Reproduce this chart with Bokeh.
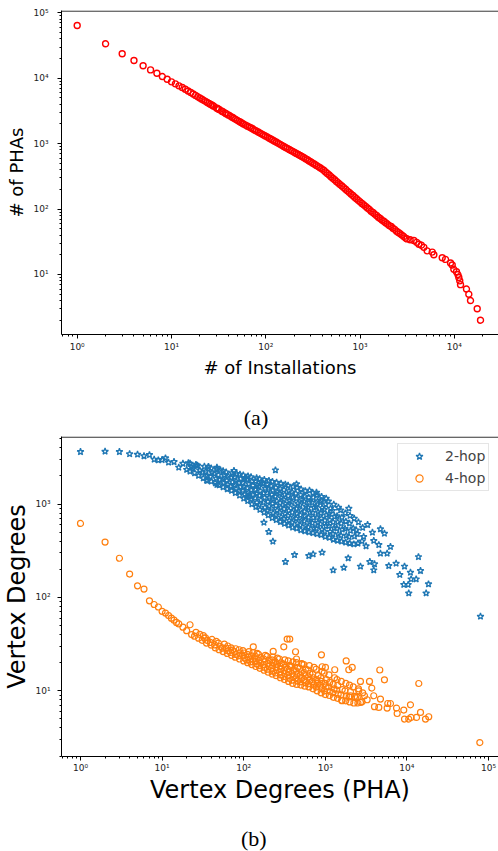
from bokeh.plotting import figure
from bokeh.models import Range1d, FixedTicker, Span, Label, CustomJSTickFormatter
from bokeh.layouts import column
from bokeh.embed import file_html
from bokeh.resources import INLINE

# ---------------- (a) data ----------------
installs = [
    1, 2, 3, 4, 5, 6, 7, 8, 9, 10, 11, 12,
    13, 14, 15, 16, 17, 18, 19, 20, 21, 22, 23, 24, 25, 26, 27, 28, 30, 31, 32, 34, 35, 37, 38, 40,
    42, 44, 46, 48, 50, 52, 54, 56, 58, 61, 64, 67, 70, 73, 76, 79, 83, 87, 91, 95, 99,
    104, 109, 114, 119, 124, 130, 136, 142, 148, 155, 162, 169, 177, 185, 193, 202, 211, 221, 231, 241,
    252, 264, 276, 288, 301, 315, 329, 344, 360, 376, 393, 411, 430, 449, 470, 491, 513, 537, 561, 587,
    613, 641, 670, 701, 733, 766, 801, 837, 875, 915, 957, 1000, 1046, 1093, 1143, 1195, 1250, 1307,
    1366, 1428, 1493, 1561, 1632, 1706, 1784, 1865, 1950, 2039, 2132, 2229, 2330, 2436, 2547, 2663,
    2784, 2911, 3043,
    3155, 3390, 3715, 3980, 4198, 4470, 4742, 5140, 5821, 6053, 7430, 8054, 9099, 9484, 9863,
    10520, 10900, 11143, 11400, 11614, 13428, 14223, 14825, 17458, 18923,
]
phas = [
    64000, 33600, 23600, 18700, 15500, 13400, 11900, 10600, 9660, 8800, 8200, 7650,
    7230, 6780, 6390, 6040, 5740, 5460, 5210, 4990, 4790, 4590, 4430, 4270, 4120, 3980, 3860, 3730, 3520, 3420, 3330, 3160, 3080, 2940, 2870, 2750,
    2640, 2530, 2440, 2350, 2270, 2190, 2120, 2060, 2000, 1920, 1850, 1790, 1730, 1670, 1610, 1570, 1510, 1450, 1400, 1350, 1310,
    1260, 1210, 1170, 1130, 1090, 1050, 1010, 975, 942, 908, 875, 847, 816, 787, 762, 734, 709, 683, 659, 637,
    615, 590, 566, 545, 524, 503, 484, 465, 446, 429, 412, 392, 370, 351, 331, 313, 297, 280, 265, 251,
    238, 225, 213, 201, 190, 180, 170, 161, 152, 144, 136, 129, 122, 116, 110, 104, 99, 93,
    89, 84, 80, 75, 72, 68, 65, 62, 59, 56, 54, 51, 49, 46, 44, 42,
    40, 38, 36,
    35, 34, 33, 31, 29, 28, 26, 23, 22, 20, 18, 17, 15, 14, 12,
    11, 10, 9, 8, 7, 6, 5, 4, 3, 2,
]

# ---------------- (b) data ----------------
hop2_x = [
    1, 2, 3, 4, 5, 6, 7, 8, 9, 10, 11, 12, 14, 16, 18,
    20, 21,
    22, 23, 22,
    25, 24, 26,
    28, 29, 27,
    32, 31, 33,
    35, 36, 34, 37,
    40, 39, 41, 40,
    45, 46, 44, 47,
    50, 51, 49, 52,
    56, 57, 55, 58, 56,
    63, 64, 62, 65, 61,
    71, 69, 73, 70, 72,
    79, 81, 77, 80, 78, 82,
    89, 87, 91, 88, 92, 90,
    100, 103, 97, 101, 98, 104, 99,
    112, 109, 115, 111, 116, 110, 113,
    126, 122, 129, 124, 130, 127, 123,
    141, 145, 138, 143, 139, 146, 140, 144,
    158, 154, 162, 156, 160, 153, 164, 157,
    178, 182, 174, 180, 176, 184, 172, 179,
    200, 195, 205, 198, 207, 193, 202, 196, 204,
    224, 230, 219, 226, 232, 221, 228, 218, 225,
    251, 246, 257, 249, 255, 244, 259, 248, 253,
    282, 288, 276, 285, 279, 290, 274, 283, 287,
    316, 310, 322, 313, 325, 308, 319, 312, 324,
    355, 362, 348, 358, 345, 365, 352, 360, 350,
    398, 390, 406, 394, 410, 386, 402, 392, 404,
    447, 456, 438, 451, 442, 460, 445, 435, 452,
    501, 491, 511, 496, 507, 488, 514, 499, 505,
    562, 573, 551, 567, 556, 578, 548, 565, 570,
    631, 619, 643, 625, 648, 614, 637, 628, 640,
    708, 722, 694, 715, 700, 728, 690, 712, 704,
    794, 778, 810, 786, 816, 772, 802, 790,
    891, 909, 873, 898, 880, 915, 868, 902,
    1000, 980, 1020, 990, 1035, 970, 1010, 1025,
    1122, 1145, 1100, 1130, 1110, 1160, 1090,
    1259, 1235, 1285, 1250, 1300, 1225, 1270,
    1413, 1440, 1385, 1420, 1395, 1450,
    1585, 1555, 1615, 1570, 1600, 1540,
    1778, 1810, 1745, 1790, 1760,
    1995, 1960, 2035, 1980, 2010,
    2239, 2280, 2200, 2260,
    2512, 2470, 2550,
    2818, 2870,
    245, 444, 780, 889, 1941, 177, 203, 228, 325, 420,
    628, 710, 914, 1250, 1687, 1910, 2698, 3516, 3926, 4009,
    3784, 4742, 5309, 3926, 4529, 6295, 5728, 4742, 5998, 7379,
    9354, 8185, 11066, 11272, 13002, 9162, 10375, 10544, 13868, 14689,
    18408, 17219, 79799, 27, 37, 47, 76, 36, 47, 116,
    2400, 2950, 3300, 3160,
]
hop2_y = [
    3630, 3660, 3630, 3440, 3400, 3270, 3370, 3010, 2960, 2980, 3110, 2790, 2840, 2470, 2720,
    2340, 2760,
    2240, 2500, 2720,
    2150, 2400, 2650,
    2020, 2300, 2600,
    1900, 2180, 2530,
    1790, 2010, 2230, 2480,
    1750, 1960, 2170, 2420,
    1680, 1880, 2100, 2360,
    1600, 1820, 2050, 2300,
    1520, 1680, 1860, 2040, 2260,
    1450, 1620, 1790, 1980, 2200,
    1390, 1550, 1720, 1920, 2150,
    1320, 1450, 1600, 1760, 1940, 2120,
    1240, 1380, 1530, 1690, 1870, 2080,
    1150, 1270, 1400, 1540, 1690, 1860, 2040,
    1080, 1200, 1330, 1480, 1640, 1820, 1990,
    1000, 1120, 1260, 1410, 1580, 1760, 1950,
    935, 1040, 1160, 1290, 1430, 1590, 1760, 1900,
    870, 980, 1100, 1230, 1380, 1540, 1710, 1860,
    815, 920, 1040, 1170, 1310, 1470, 1650, 1820,
    760, 850, 950, 1060, 1180, 1320, 1470, 1630, 1780,
    710, 800, 900, 1010, 1130, 1260, 1400, 1560, 1740,
    676, 760, 855, 960, 1075, 1200, 1340, 1500, 1700,
    646, 725, 815, 915, 1030, 1160, 1300, 1460, 1660,
    617, 695, 785, 885, 1000, 1120, 1260, 1420, 1620,
    590, 665, 750, 850, 960, 1085, 1220, 1380, 1580,
    562, 635, 720, 815, 925, 1050, 1180, 1340, 1540,
    550, 620, 700, 790, 895, 1015, 1150, 1300, 1500,
    525, 595, 670, 760, 860, 975, 1105, 1250, 1440,
    513, 580, 655, 740, 835, 945, 1070, 1210, 1380,
    500, 565, 640, 720, 815, 920, 1040, 1175, 1400,
    490, 555, 630, 715, 810, 920, 1040, 1180, 1320,
    479, 550, 630, 720, 820, 935, 1070, 1250,
    468, 535, 610, 700, 800, 910, 1040, 1200,
    447, 510, 585, 670, 765, 870, 995, 1150,
    437, 505, 585, 675, 780, 900, 1070,
    417, 480, 555, 640, 735, 850, 990,
    407, 475, 550, 640, 745, 920,
    398, 462, 535, 620, 720, 860,
    389, 460, 545, 650, 800,
    380, 445, 520, 620, 750,
    372, 450, 550, 700,
    380, 480, 640,
    400, 560,
    2312, 1637, 1330, 1084, 897, 635, 505, 398, 241, 286,
    279, 291, 303, 196, 209, 264, 215, 241, 196, 228,
    497, 540, 484, 405, 366, 349, 296, 296, 218, 231,
    215, 175, 185, 157, 157, 137, 137, 111, 272, 193,
    139, 111, 62.5, 2570, 2512, 2466, 2275, 1778, 1611, 1227,
    525, 447, 600, 355,
]

hop4_x = [
    1, 2, 3, 4, 5, 6, 7, 8, 9, 10, 11, 12, 13, 14, 15, 16, 18, 20, 22, 23,
    25, 26,
    28, 29,
    31, 33, 32,
    35, 36, 34,
    40, 39, 41,
    45, 44, 46,
    50, 52, 49,
    56, 55, 58,
    63, 65, 61, 64,
    71, 69, 73, 70,
    79, 81, 77, 80,
    89, 87, 91, 88,
    100, 103, 97, 101, 98,
    112, 109, 115, 111, 116,
    126, 122, 129, 124, 130,
    141, 145, 138, 143, 139, 146,
    158, 154, 162, 156, 160, 153,
    178, 182, 174, 180, 176, 184,
    200, 195, 205, 198, 207, 193,
    224, 230, 219, 226, 232, 221, 228,
    251, 246, 257, 249, 255, 244, 259,
    282, 288, 276, 285, 279, 290, 274,
    316, 310, 322, 313, 325, 308, 319,
    355, 362, 348, 358, 345, 365, 352,
    398, 390, 406, 394, 410, 386, 402,
    447, 456, 438, 451, 442, 460, 445,
    501, 491, 511, 496, 507, 488, 514,
    562, 573, 551, 567, 556, 578, 548,
    631, 619, 643, 625, 648, 614, 637,
    708, 722, 694, 715, 700, 728,
    794, 778, 810, 786, 816, 772,
    891, 909, 873, 898, 880, 915,
    1000, 980, 1020, 990, 1035, 970,
    1122, 1145, 1100, 1130, 1110,
    1259, 1235, 1285, 1250, 1300,
    1413, 1440, 1385, 1420, 1395,
    1585, 1555, 1615, 1570,
    1778, 1810, 1745, 1790,
    1995, 1960, 2035, 1980,
    2239, 2280, 2200,
    2512, 2470, 2550,
    2818, 2870,
    131, 230, 310, 341, 367, 432, 444, 521, 897, 916,
    1005, 1306, 1803, 1941, 2138, 2698, 3483, 3715, 4656, 5309,
    3926, 4742, 4529, 4009, 5834, 6295, 5728, 7464, 7603, 9162,
    11066, 9354, 10544, 11272, 13122, 14689, 16904, 18535, 13996, 78343,
    375, 1611, 2698, 3258, 2344, 3020, 2570, 2037,
]
hop4_y = [
    620, 392, 263, 178, 133, 123, 92, 84, 79, 71, 68, 64, 60, 57, 54, 52, 48, 44, 51, 40,
    38.5, 42.2,
    36.6, 40.3,
    34.7, 36.6, 38.9,
    32.4, 34.5, 37.0,
    30.9, 33.0, 35.5,
    28.8, 31.0, 33.9,
    27.5, 29.8, 32.4,
    26.3, 28.6, 31.6,
    25.1, 26.9, 28.6, 30.2,
    24.0, 25.7, 27.2, 28.8,
    22.9, 24.5, 26.3, 28.2,
    21.9, 23.7, 25.4, 27.5,
    20.9, 22.4, 23.9, 25.4, 26.9,
    20.0, 21.4, 22.9, 24.5, 26.3,
    19.1, 20.4, 21.9, 23.7, 25.7,
    18.2, 19.4, 20.6, 21.9, 23.4, 25.1,
    17.4, 18.6, 19.8, 21.1, 22.7, 24.5,
    16.6, 17.8, 19.1, 20.4, 22.0, 24.0,
    15.8, 17.0, 18.3, 19.7, 21.3, 23.4,
    15.1, 16.2, 17.4, 18.6, 20.0, 21.4, 22.9,
    14.5, 15.5, 16.6, 17.8, 19.1, 20.6, 22.4,
    13.8, 14.8, 15.9, 17.1, 18.4, 19.9, 21.9,
    13.2, 14.2, 15.3, 16.5, 17.8, 19.3, 21.4,
    12.6, 13.6, 14.7, 15.9, 17.2, 18.7, 20.9,
    12.0, 13.0, 14.1, 15.3, 16.6, 18.2, 20.4,
    11.7, 12.7, 13.8, 15.0, 16.3, 17.8, 20.0,
    11.5, 12.5, 13.5, 14.7, 16.0, 17.4, 19.5,
    11.2, 12.2, 13.2, 14.4, 15.7, 17.1, 19.1,
    11.0, 11.9, 12.9, 14.1, 15.3, 16.7, 18.6,
    10.5, 11.5, 12.6, 13.8, 15.1, 17.8,
    10.0, 11.0, 12.0, 13.2, 14.5, 17.0,
    9.5, 10.5, 11.5, 12.6, 13.8, 16.2,
    9.1, 10.0, 11.0, 12.0, 13.2, 15.5,
    8.9, 9.9, 11.0, 12.3, 14.8,
    8.5, 9.5, 10.5, 11.7, 13.8,
    8.3, 9.2, 10.2, 11.4, 13.2,
    7.9, 9.0, 10.3, 12.6,
    7.8, 8.8, 10.0, 12.0,
    7.6, 8.6, 9.8, 11.5,
    7.4, 8.7, 11.0,
    7.4, 8.5, 10.5,
    7.6, 9.5,
    29.6, 26.4, 29.6, 35.8, 35.8, 26.2, 21.9, 19.3, 24.3, 18.1,
    17.8, 16.8, 20.9, 16.8, 17.8, 12.6, 12.6, 10.7, 16.7, 13.1,
    8.85, 8.15, 6.64, 6.75, 7.31, 7.31, 6.53, 6.53, 5.71, 6.21,
    7.08, 4.98, 4.98, 5.18, 5.18, 5.86, 4.98, 5.27, 11.97, 2.79,
    18.5, 7.82, 7.5, 8.02, 8.47, 8.85, 10.0, 8.85,
]

series_labels = ["2-hop", "4-hop"]
captions = ["(a)", "(b)"]
log_ticks_a_x = [1, 10, 100, 1000, 10000]
log_ticks_a_y = [10, 100, 1000, 10000, 100000]
log_ticks_b_x = [1, 10, 100, 1000, 10000, 100000]
log_ticks_b_y = [10, 100, 1000]

FONT = "DejaVu Sans"
FRAME_LEFT = 61  # plots in the column share this aligned left border


def minor_for(decades):
    return [m * 10 ** d for d in decades for m in range(2, 10)]


sup_fmt = CustomJSTickFormatter(code="""
const s = ["\\u2070", "\\u00b9", "\\u00b2", "\\u00b3", "\\u2074", "\\u2075", "\\u2076"];
const e = Math.round(Math.log10(tick));
return "10" + s[e];
""")


def style(p, xt, yt, xminor, yminor, label_px, y_tick_so, ylabel_so, x_tick_so, xlabel_so):
    p.outline_line_color = None
    p.xgrid.visible = False
    p.ygrid.visible = False
    p.background_fill_color = "white"
    p.border_fill_color = "white"
    for ax, t, mn in ((p.xaxis[0], xt, xminor), (p.yaxis[0], yt, yminor)):
        ax.ticker = FixedTicker(ticks=t, minor_ticks=mn)
        ax.formatter = sup_fmt
        ax.axis_line_color = "black"
        ax.axis_line_width = 1
        ax.major_tick_line_color = "black"
        ax.minor_tick_line_color = "black"
        ax.major_tick_in = 0
        ax.major_tick_out = 4
        ax.minor_tick_in = 0
        ax.minor_tick_out = 2
        ax.major_label_text_font = FONT
        ax.major_label_text_font_size = "9px"
        ax.major_label_text_color = "#222222"
        ax.axis_label_text_font = FONT
        ax.axis_label_text_font_size = label_px
        ax.axis_label_text_font_style = "normal"
        ax.axis_label_text_color = "black"
    p.yaxis[0].major_label_standoff = y_tick_so
    p.yaxis[0].axis_label_standoff = ylabel_so
    p.xaxis[0].major_label_standoff = x_tick_so
    p.xaxis[0].axis_label_standoff = xlabel_so


def caption_fig(text, height, cx, cy):
    c = figure(width=498, height=height, x_range=Range1d(0, 1), y_range=Range1d(0, 1),
               x_axis_location=None, y_axis_location=None,
               output_backend="svg", toolbar_location=None,
               min_border_left=FRAME_LEFT, min_border_right=0,
               min_border_top=0, min_border_bottom=0)
    c.outline_line_color = None
    c.xgrid.visible = False
    c.ygrid.visible = False
    c.background_fill_color = "white"
    c.border_fill_color = "white"
    c.add_layout(Label(x=cx - FRAME_LEFT, y=cy, x_units="screen", y_units="screen", text=text,
                       text_font="Liberation Serif", text_font_size="22px",
                       text_color="black", text_align="center", text_baseline="middle"))
    return c


# ---------------- figure (a) ----------------
A_TOP = 108400
pa = figure(width=498, height=395, x_axis_type="log", y_axis_type="log",
            x_range=Range1d(0.6816, 29360), y_range=Range1d(1.21, A_TOP),
            output_backend="svg", toolbar_location=None,
            min_border_left=FRAME_LEFT, min_border_right=0, min_border_top=10, min_border_bottom=61)
pa.scatter(installs, phas, marker="circle", size=6, fill_color=None,
           line_color="#ff0000", line_width=1.4)
pa.xaxis.axis_label = "# of Installations"
pa.yaxis.axis_label = "# of PHAs"
style(pa, log_ticks_a_x, log_ticks_a_y, minor_for(range(-1, 5)), minor_for(range(0, 5)),
      "18px", 9, 3, 3, 2)
pa.add_layout(Span(location=A_TOP / 1.02, dimension="width", line_color="black", line_width=1))
cap_a = caption_fig(captions[0], 37, 255.5, 15.3)

# ---------------- figure (b) ----------------
B_TOP = 5297
pb = figure(width=498, height=385, x_axis_type="log", y_axis_type="log",
            x_range=Range1d(0.585, 132700), y_range=Range1d(1.977, B_TOP),
            output_backend="svg", toolbar_location=None,
            min_border_left=FRAME_LEFT, min_border_right=0, min_border_top=4, min_border_bottom=61)
pb.scatter(hop2_x, hop2_y, marker="star", size=7, fill_color=None,
           line_color="#1f77b4", line_width=1.3, legend_label=series_labels[0])
pb.scatter(hop4_x, hop4_y, marker="circle", size=6, fill_color=None,
           line_color="#ff7f0e", line_width=1.2, legend_label=series_labels[1])
pb.xaxis.axis_label = "Vertex Degrees (PHA)"
pb.yaxis.axis_label = "Vertex Degrees"
style(pb, log_ticks_b_x, log_ticks_b_y, minor_for(range(-1, 6)), minor_for(range(0, 4)),
      "24px", 7, 1, 2, 0)
pb.add_layout(Span(location=B_TOP / 1.015, dimension="width", line_color="black", line_width=1))
cap_b = caption_fig(captions[1], 34, 253.3, 13)

lg = pb.legend[0]
lg.location = (336, 265)
lg.margin = 0
lg.padding = 3
lg.spacing = 4
lg.glyph_width = 36
lg.glyph_height = 18
lg.label_height = 18
lg.label_standoff = 8
lg.label_text_font = FONT
lg.label_text_font_size = "14px"
lg.border_line_color = "#cccccc"
lg.border_line_width = 1
lg.background_fill_color = "white"
lg.background_fill_alpha = 0.8

layout = column(pa, cap_a, pb, cap_b, spacing=0)
open("out.html", "w").write(file_html(layout, INLINE))
